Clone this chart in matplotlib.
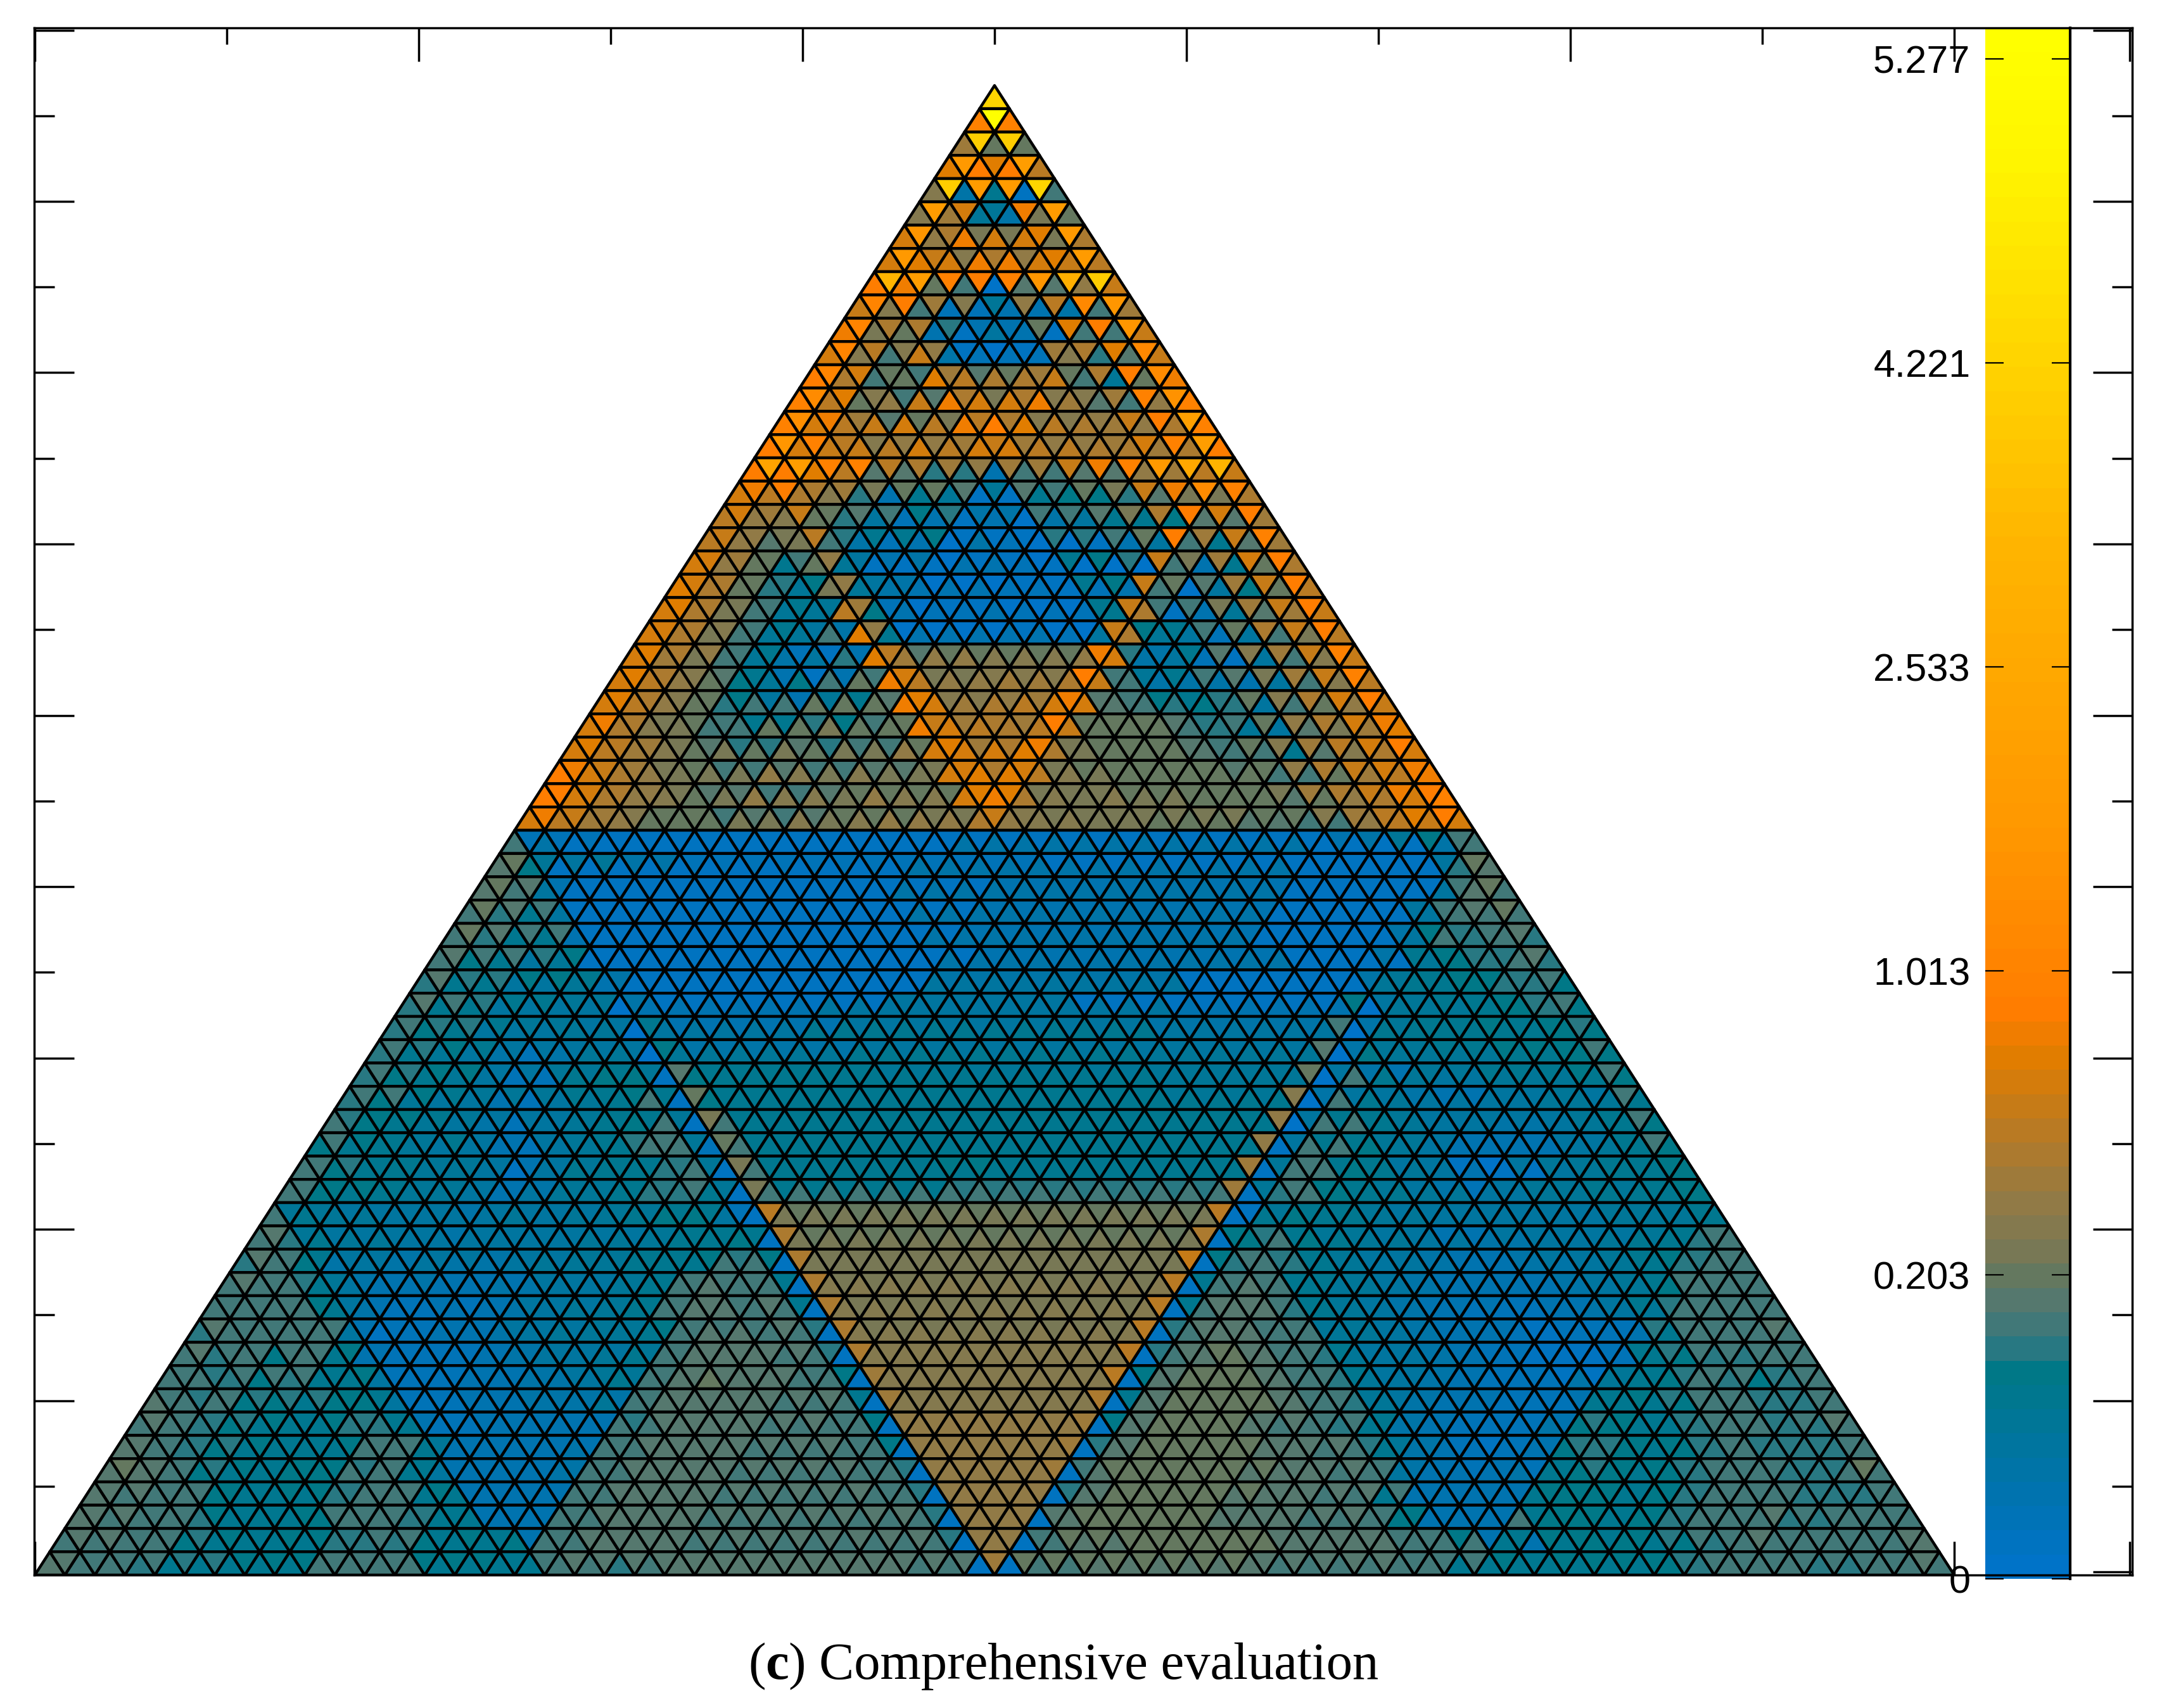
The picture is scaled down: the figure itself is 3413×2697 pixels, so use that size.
# -*- coding: utf-8 -*-
import re
import numpy as np
from matplotlib import pyplot as plt
from matplotlib.colors import LinearSegmentedColormap
from matplotlib.ticker import NullFormatter
from matplotlib.transforms import IdentityTransform
from matplotlib.tri import Triangulation

# one character per colour level of the bar, bottom level first; x{n} repeats x
SYMBOLS = "0123456789abcdefghijklmnopqrstuvwxyzABCDEFGHIJKLMNOPQRSTUVWXYZ+-"

# downward triangles of each mesh row, top row first
DOWN = [
    "", "-", "MM", "vlx", "MwwO", "wk6mw", "uhddlv", "vjehflw", "GxonouEM", "pnge6fiqu",
    "phh933clnu", "pief101ghlq", "pkcagbcgchnr", "rleabhdheegot", "smgbcdiheefjny",
    "uoieffgjgffgkox", "zxooihgfggjmovBG", "mnhgdccb6bacdjmro", "kgjcba8944aabdhnkn",
    "jfdi977811199acngjo", "kgcaf5340110789jdgkn", "khc98f540001178jcbgjn",
    "lhda76g20110007jaadgjn", "khea754f0000100j87achjn", "lhfa7213ibcccccm947begjo",
    "lheb7313akddeeena67abdgjo", "lhec85367bleefgmba879cehkn", "mhdca7798acjghgncccb9acfhkm",
    "ligdb99b9aaclghmdcccbacegikn", "mjgdcaabaabbdkhkdcccccbcfhjkm",
    "nkhfdbbaabccccllddd" "cccccdghjmn", "mjgeccababcccddjeddddddd" "ccegiln",
    "2{3}1{24}3468a",
    "c656442{12}1{13}5c",
    "cb31{14}3{10}1{5}ac",
    "cba1{14}3{10}1{4}5abc",
    "cbaa1{13}3{10}1{4}489ab",
    "baa981{13}3{10}1{3}47899b",
    "b9988741{10}4{8}1{6}467889a",
    "ba9776641{8}5{6}1{9}8567789a",
    "a997665573{6}5{10}4{6}a46778789",
    "a9875555584{6}5{15}b46677888a",
    "a988556676b7{6}6{14}c543667778a",
    "aa876667787c7{15}6{4}e4554335565a",
    "988765556776d7{18}f57765555567a",
    "a8767535679a6c7{17}f577665333557a",
    "a9776653567796d7{6}8{2}7{8}g6a775510566778",
    "a887665346679a6d7{6}9{9}g6a8765425667678",
    "6655554555566772ic{14}i1677655555556667",
    "b6555545555556777hc{13}h8976655335555567a",
    "ba7554554556677898hd{12}j8a976554334556789a",
    "ba9643433355567aaa7hd{11}i7aa7765433334567aaa",
    "aaa853232355567abab7hd{10}i7bba7654333233579aaa",
    "baaaa32233555668aaab9hd{9}i9bbaa665433312229aaab",
    "baaaa83222345556abbbb9he{8}i9bcbaa755432211279aaaa",
    "a9aaa78222334566abbbba8ge{7}i8bccbaa755432211679aa9a",
    "a9a9998722334444abbbbbb7ge{6}h7bcccbaa6543322378 9aa99a",
    "ba998789732" "3{5}9b{6}a8f{6}g8bcccbbaa74322239879aa9ab",
    "ba998778aa63{5}ab{7}a8f{5}g9bccccbbb964212399889a999a",
    "cba987889a733334ab{8}a9f{4}gac{6}bbba4323279889aaa99c",
    "bbaa87889aa83333ab{9}a9ffff9bc{5}b{4}a3333888789aaa99a",
    "bbaa8778aaa97333ab{11}9fff" "bc{5}b{5}a8333788789aabaaaa",
    "bbaa987889aa7873ab{12}9ff" "ac{7}b{4}aa83788789aaba{4}b",
    "baaa99888aaa8887ab{14}g" "c{8}b{5}aaa8788889a{7}b",
]

# upward triangles of each mesh row, top row first
UP = [
    "O", "oo", "gcc", "lnni", "e471a", "eg64dc", "kfmkkdh", "klkmmkji", "nmca0bbfj",
    "jea22334ag", "mdc31531aaj", "keaj4222e9bj", "nhaclihhja6cm", "oicfjmkkmgbafo",
    "okijkimnlihgfho", "nkjjikikkiihhghn", "nnlibb993aabbfgij", "kihe9376117889bddh",
    "ifec952313045778bbg", "ifbda42304200135a7bg", "kfc7c61113321000a37ch",
    "lhc96d6433322123a058ci", "khda66i832232227h136bgj", "khda66al73333325h6525adi",
    "kgda6459lgffeeefk45215aej", "kifc868acmiffgghja44435aei", "kifc9aacccmkghikkba9895acfj",
    "khedaaccdccmkihijccca965bdgl", "kigecdcdcddfkkklhdcccbaa7behk",
    "nkhfdddfededdklliedcccccaacgim", "nkhfecdfeedfeekmhededdcccbcfhko",
    "kigfcccddedefffhfeeddcccbbaafijk",
    "a41{13}4{12}1{4}4a",
    "b81{12}4{13}1{5}9b",
    "ba51{11}4{13}1{5}5ba",
    "a9751{11}4{12}1{5}5aaa",
    "a97731{11}4{11}1{5}5a9a9",
    "a87561{12}4{12}1{4}689a9",
    "97755631{10}5{9}1{6}6778998",
    "977555503{6}5{12}3{6}06667898",
    "9875556605{5}7{12}5{6}077777788",
    "97654246606{6}7{10}6{6}0866667788",
    "9876522788187{15}6{5}0a765566678",
    "9865532567a187{19}0a7655556667",
    "a8765425678a1a7{18}0aa7655445678",
    "87765532567aa2a7{17}1aa86533335678",
    "a877665157779a1a7{16}1aa876531156778",
    "a877665356679971a{16}19a8776655667778",
    "a7665555656678851d{15}17877665555556667",
    "a97665555556667781d{14}18a87665544556779a",
    "9a84545445666777aa1d{13}19a97655433445679aa",
    "aaa75333344556" "7abaa1e{12}1aba7665433334568aaa",
    "aaaa74223345667abbaa1e{11}1abb9765432223456aaaa",
    "9aaaa51233456667abbaa1e{10}1abbaa66543321223" "7aaaa",
    "a9a8a73222345567abbbaa1e{9}1abcba965543211127899aa",
    "aa98977522334457abcbbaa1e{8}1bcccba965432224678a989a",
    "baa8878852233446abbbbaaa1e{7}1bccccba964332227778aa99a",
    "aa98777997223333aabbbaaaa1f{6}1bcccbaa9743222488779aa99a",
    "ba987777aa733334aabbba{5}1f{5}1bccccbbaa743223898789a999a",
    "bba87788aa753334aabbba{6}1f{4}1bccccbbbaa53334788789aa99aa",
    "baaa87779aa77333aabbba{7}1fff1bc{4}bbbaa73333788789aaa999a",
    "baaa97778aa97733aabbba{8}1ff1bc{4}bbbaaa8333a88789aaa99aaa",
    "aaaa87{4}9998778aabbba{9}1f1abbc{5}b{4}aaa73788789a{6}b",
    "baa97{5}a{4}7{4}aa9ab{8}aa11aab{6}a{6}7{7}89aaa99aaa",
]

# colours of the bar, (level, rgb)
BAR_COLOURS = [
    (0, (0, 115, 200)), (3, (0, 115, 175)), (8, (0, 120, 135)), (9, (40, 120, 130)),
    (10, (65, 120, 120)), (11, (85, 120, 110)), (12, (100, 120, 95)), (13, (120, 120, 85)),
    (15, (145, 122, 70)), (18, (185, 122, 35)), (21, (225, 125, 0)), (23, (255, 125, 0)),
    (30, (255, 150, 0)), (36, (255, 165, 0)), (42, (255, 180, 0)), (48, (255, 205, 0)),
    (58, (255, 245, 0)), (63, (255, 255, 0)),
]

BAR_TICK_LEVELS = [0, 12.54, 25.08, 37.62, 50.16, 62.7]
BAR_TICK_LABELS = ["0", "0.203", "1.013", "2.533", "4.221", "5.277"]

W, H = 3413, 2697
N_ROWS = 64


def to_levels(text, n):
    text = text.replace(" ", "")
    text = re.sub(r"(.)\{(\d+)\}", lambda m: m.group(1) * int(m.group(2)), text)
    text = (text + text[-1:] * n)[:n]
    return [SYMBOLS.index(c) for c in text]


# pixel layout of the reference
X0_PX, X_SCALE = 55.0, 3030.0
Y0_PX, Y_SCALE = 2482.0, 2705.0
LEFT, RIGHT, TOP, BOTTOM = 54.0, 3366.0, 43.5, 2487.0
ROW_H = 36.75 / Y_SCALE
Y_BASE = (Y0_PX - BOTTOM) / Y_SCALE

xlim = ((LEFT - X0_PX) / X_SCALE, (RIGHT - X0_PX) / X_SCALE)
ylim = (Y_BASE, (Y0_PX - TOP) / Y_SCALE)

xs, ys, start = [], [], []
for k in range(N_ROWS + 1):
    start.append(len(xs))
    for j in range(k + 1):
        xs.append(0.5 + (j - k / 2) / N_ROWS)
        ys.append(Y_BASE + (N_ROWS - k) * ROW_H)

tris, vals = [], []
for r in range(N_ROWS):
    up = to_levels(UP[r], r + 1)
    down = to_levels(DOWN[r], r)
    for i in range(r + 1):
        tris.append([start[r] + i, start[r + 1] + i, start[r + 1] + i + 1])
        vals.append(up[i])
    for i in range(r):
        tris.append([start[r] + i, start[r] + i + 1, start[r + 1] + i + 1])
        vals.append(down[i])

cmap = LinearSegmentedColormap.from_list(
    "bar", [(lev / 63, tuple(c / 255 for c in rgb)) for lev, rgb in BAR_COLOURS], N=64
)

fig = plt.figure(figsize=(W / 100, H / 100), dpi=100)
plt.rcParams['font.family'] = ['Liberation Sans', 'DejaVu Sans']

# colour bar
cax = fig.add_axes([3134 / W, (H - 2493) / H, (3268 - 3134) / W, (2493 - TOP) / H], zorder=1)
cax.pcolormesh([0, 1], np.arange(65), np.arange(64).reshape(-1, 1), cmap=cmap, vmin=-0.5, vmax=63.5)
cax.set_xlim(0, 1)
cax.set_ylim(0, 64)
cax.set_xticks([])
cax.set_yticks(BAR_TICK_LEVELS)
cax.set_yticklabels(BAR_TICK_LABELS, fontsize=44, family='Liberation Sans')
cax.tick_params(axis='y', direction='in', left=True, right=True, length=21, width=1.6, pad=17)
for name in ['left', 'top', 'bottom']:
    cax.spines[name].set_visible(False)
cax.spines['right'].set_linewidth(3)

# mesh
ax = fig.add_axes([LEFT / W, (H - BOTTOM) / H, (RIGHT - LEFT) / W, (BOTTOM - TOP) / H], zorder=2)
ax.patch.set_visible(False)
tri = Triangulation(xs, ys, tris)
ax.tripcolor(tri, facecolors=np.array(vals, dtype=float), cmap=cmap, vmin=-0.5, vmax=63.5,
             edgecolors='k', linewidth=3.2)
ax.set_xlim(*xlim)
ax.set_ylim(*ylim)
ax.set_axisbelow(True)
ax.set_xticks(list(np.arange(0, 1.01, 0.2)) + [(3362 - X0_PX) / X_SCALE])
ax.set_xticks(np.arange(0.1, 1.0, 0.2), minor=True)
ax.set_yticks(np.arange(0, 0.95, 0.1))
ax.set_yticks(np.arange(0.05, 0.95, 0.1), minor=True)
ax.xaxis.set_major_formatter(NullFormatter())
ax.yaxis.set_major_formatter(NullFormatter())
ax.tick_params(axis='x', which='major', direction='in', top=True, bottom=True, length=38, width=2.5)
ax.tick_params(axis='x', which='minor', direction='in', top=True, bottom=True, length=19, width=2.5)
ax.tick_params(axis='y', which='major', direction='in', left=True, right=True, length=45, width=2.5)
ax.tick_params(axis='y', which='minor', direction='in', left=True, right=True, length=23, width=2.5)
for spine in ax.spines.values():
    spine.set_linewidth(2.5)

# caption, with the letter in bold
renderer = fig.canvas.get_renderer()
x_px = 1181.0
for piece, weight in [("(", 'normal'), ("c", 'bold'), (") Comprehensive evaluation", 'normal')]:
    t = fig.text(x_px, H - 2651, piece, transform=IdentityTransform(), family='Liberation Serif',
                 fontsize=59.5, fontweight=weight, va='baseline', ha='left')
    x_px = t.get_window_extent(renderer).x1

fig.savefig('out.png', dpi=100)
